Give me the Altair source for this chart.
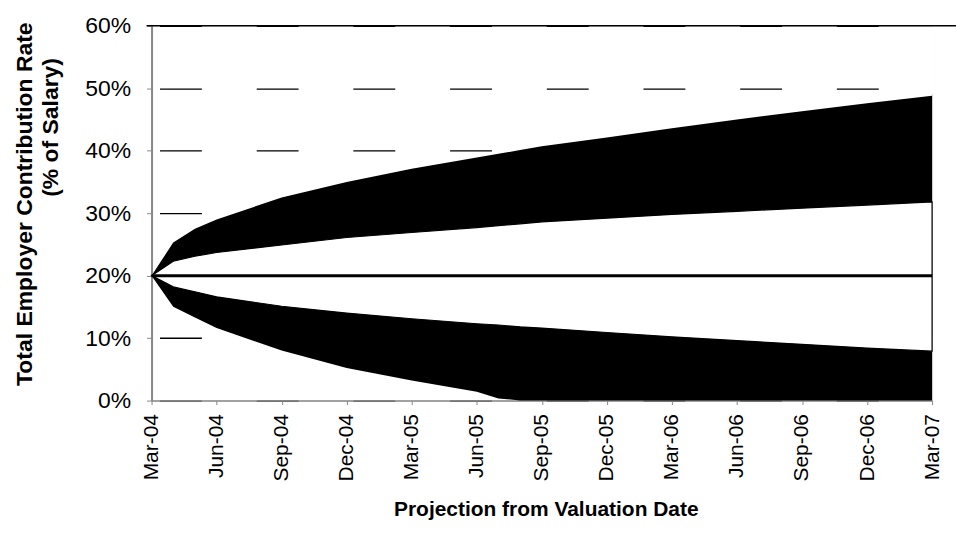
import altair as alt
import pandas as pd

# ---- data ----
MONTHS = [0, 1, 2, 3, 6, 9, 12, 15, 16, 17, 18, 21, 24, 27, 30, 33, 36]
UPPER_OUTER = [20.0, 25.3, 27.5, 29.0, 32.5, 35.0, 37.1, 38.9, 39.5, 40.1, 40.7, 42.1, 43.6, 45.0, 46.3, 47.6, 48.8]
UPPER_INNER = [20.0, 22.3, 23.1, 23.7, 24.9, 26.1, 26.9, 27.7, 28.0, 28.3, 28.6, 29.2, 29.8, 30.3, 30.8, 31.3, 31.8]
MEDIAN = [20.0] * len(MONTHS)
LOWER_INNER = [20.0, 18.2, 17.4, 16.6, 15.1, 14.0, 13.1, 12.3, 12.1, 11.8, 11.6, 10.9, 10.2, 9.6, 9.0, 8.4, 7.9]
LOWER_OUTER = [20.0, 15.0, 13.3, 11.6, 8.0, 5.2, 3.2, 1.4, 0.35, 0.0, 0.0, 0.0, 0.0, 0.0, 0.0, 0.0, 0.0]

TICK_MONTHS = [0, 3, 6, 9, 12, 15, 18, 21, 24, 27, 30, 33, 36]
TICK_LABELS = ["Mar-04", "Jun-04", "Sep-04", "Dec-04", "Mar-05", "Jun-05", "Sep-05",
               "Dec-05", "Mar-06", "Jun-06", "Sep-06", "Dec-06", "Mar-07"]
Y_TICKS = [0, 10, 20, 30, 40, 50, 60]

Y_TITLE_1 = "Total Employer Contribution Rate"
Y_TITLE_2 = "(% of Salary)"
X_TITLE = "Projection from Valuation Date"

df = pd.DataFrame({
    "m": MONTHS, "uo": UPPER_OUTER, "ui": UPPER_INNER, "med": MEDIAN,
    "li": LOWER_INNER, "lo": LOWER_OUTER,
})

W, H = 783, 376
PAD = {"left": 144, "top": 17, "right": 26, "bottom": 120}
FONT = "Liberation Sans"

label_arr = "[" + ",".join("'%s'" % s for s in TICK_LABELS) + "]"

x_enc = alt.X("m:Q", scale=alt.Scale(domain=[0, 36], nice=False, zero=False),
              axis=alt.Axis(values=TICK_MONTHS, labelExpr=label_arr + "[round(datum.value/3)]",
                            labelAngle=270, labelAlign="right", labelBaseline="middle",
                            labelFontSize=21, labelPadding=9, tickSize=4, grid=False,
                            title=None, domainWidth=1.5))
y_scale = alt.Scale(domain=[0, 60], nice=False)
y_axis = alt.Axis(values=Y_TICKS, labelExpr="datum.value + '%'", labelFontSize=23,
                  labelPadding=16, tickSize=5, grid=True, gridDash=[42, 55], gridDashOffset=89,
                  gridColor="black", gridWidth=1.3, title=None, domainWidth=2)

base = alt.Chart(df)
one = pd.DataFrame({"a": [0]})

black_band = base.mark_area(color="black", opacity=1).encode(
    x=x_enc, y=alt.Y("lo:Q", scale=y_scale, axis=y_axis), y2="uo:Q")
# cosmetic white cover for the faint view edge above the end of the outer band
cover = alt.Chart(one).mark_rule(color="white", strokeWidth=3).encode(
    x=alt.value(W), y=alt.value(1), y2=alt.value(68))
white_band = base.mark_area(fill="white", fillOpacity=1, stroke="black", strokeWidth=1.2).encode(
    x="m:Q", y="li:Q", y2="ui:Q")
median_line = base.mark_line(color="black", strokeWidth=3).encode(x="m:Q", y="med:Q")

top_rule = alt.Chart(one).mark_rule(color="black", strokeWidth=1.5).encode(
    x=alt.value(-5), x2=alt.value(W + PAD["right"] - 2), y=alt.value(0))

yt1 = alt.Chart(one).mark_text(text=Y_TITLE_1, angle=270, font=FONT, fontSize=23, fontWeight="bold",
                               align="center", baseline="middle", color="black").encode(
    x=alt.value(-127), y=alt.value(179))
yt2 = alt.Chart(one).mark_text(text=Y_TITLE_2, angle=270, font=FONT, fontSize=23, fontWeight="bold",
                               align="center", baseline="middle", color="black").encode(
    x=alt.value(-101), y=alt.value(102))
xt = alt.Chart(one).mark_text(text=X_TITLE, font=FONT, fontSize=21, fontWeight="bold",
                              align="center", baseline="middle", color="black").encode(
    x=alt.value(396), y=alt.value(486))

chart = alt.layer(black_band, cover, white_band, median_line, top_rule, yt1, yt2, xt).properties(
    width=W, height=H, autosize=alt.AutoSizeParams(type="none"), padding=PAD
).configure_view(stroke="transparent", strokeOpacity=0).configure_axis(
    labelFont=FONT, labelColor="black", domainColor="black", tickColor="black"
).configure(background="white")

chart.save("out.html", embed_options={"renderer": "svg", "actions": False})
